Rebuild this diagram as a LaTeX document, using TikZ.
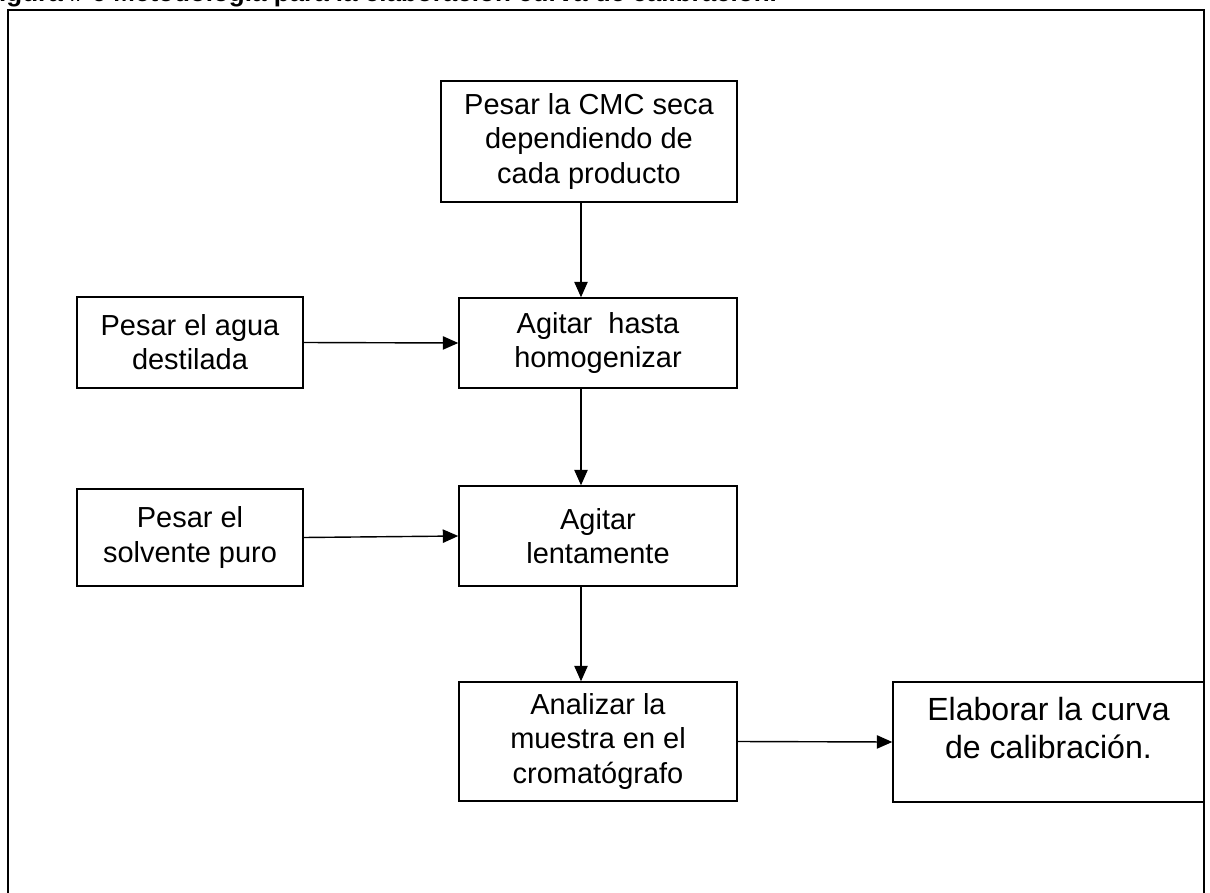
\documentclass[tikz,border=0pt]{standalone}
\usepackage{fontspec}
\setmainfont{Liberation Sans}
\usetikzlibrary{arrows.meta,positioning,calc}

\tikzset{
    caja/.style={draw, line width=1pt, inner sep=0pt, align=center,
        font=\fontsize{20.6pt}{24.2pt}\selectfont},
    flecha/.style={-{Triangle[length=11pt,width=9.5pt]}, line width=1pt},
}

\begin{document}
\begin{tikzpicture}[x=0.025cm, y=-0.025cm]
    \useasboundingbox (0,0) rectangle (1210,893);

    % titulo cortado y marco
    \node [anchor=base west, inner sep=0pt, font=\bfseries\fontsize{18.5pt}{22pt}\selectfont] (titulo) at (-17,1.5) {Figura \# 6 Metodología para la elaboración curva de calibración.};
    \draw [line width=1.5pt] (8,10) rectangle (1204,940);

    \node [caja, minimum width=7.4cm, minimum height=3.025cm] (cmc) at (589,141.5) {Pesar la CMC seca\\dependiendo de\\cada producto};
    \node [caja, minimum width=5.65cm, minimum height=2.275cm] (agua) at (190,342.5) {Pesar el agua\\destilada};
    \node [caja, minimum width=6.95cm, minimum height=2.25cm] (homog) at (598,343) {Agitar\ \ hasta\\homogenizar};
    \node [caja, minimum width=5.65cm, minimum height=2.425cm] (solvente) at (190,537.5) {Pesar el\\solvente puro};
    \node [caja, minimum width=6.95cm, minimum height=2.5cm] (lento) at (598,536) {Agitar\\lentamente};
    \node [caja, minimum width=6.95cm, minimum height=2.975cm] (analizar) at (598,741.5) {Analizar la\\muestra en el\\cromatógrafo};
    \node [caja, minimum width=7.775cm, minimum height=3cm, text depth=20pt,
        font=\fontsize{22.8pt}{27pt}\selectfont] (curva) at (1048.5,742) {Elaborar la curva\\de calibración.};

    \coordinate (eje) at (581,0);
    \draw [flecha] (cmc.south -| eje) -- (homog.north -| eje);
    \draw [flecha] (homog.south -| eje) -- (lento.north -| eje);
    \draw [flecha] (lento.south -| eje) -- (analizar.north -| eje);
    \draw [flecha] (agua.east) -- (homog.west);
    \draw [flecha] (solvente.east) -- (lento.west);
    \draw [flecha] (analizar.east) -- (curva.west);
\end{tikzpicture}
\end{document}
